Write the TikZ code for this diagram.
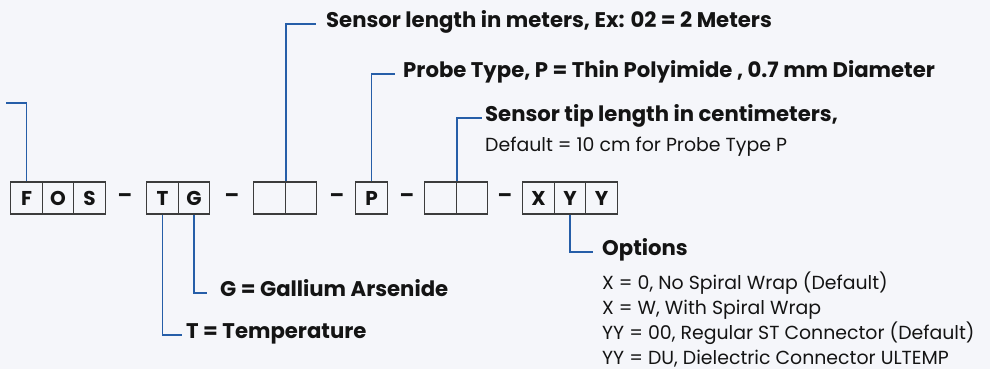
\documentclass[tikz,border=0pt]{standalone}
\usepackage{fontspec}
\setmainfont{Poppins}
\usepackage{xcolor}
\usepackage{tikz}
\usetikzlibrary{positioning}

\definecolor{leadblue}{RGB}{38,94,168}
\definecolor{cellgray}{RGB}{60,60,60}
\definecolor{inkblack}{RGB}{20,20,20}
\definecolor{paper}{RGB}{245,246,250}

\begin{document}
\begin{tikzpicture}[
    x=1pt, y=-1pt,
    node distance=31.5pt,
    cell/.style={draw=cellgray, line width=1.2pt, minimum width=31.5pt, minimum height=32pt, inner sep=0pt, text=inkblack, font=\fontsize{20}{20}\selectfont\bfseries},
    sep/.style={text=inkblack, font=\fontsize{21}{21}\selectfont\bfseries},
    lead/.style={draw=leadblue, line width=1.4pt},
    head/.style={anchor=west, inner sep=0pt, text=inkblack, text height=.7em, text depth=0pt, font=\fontsize{21.2}{24}\selectfont\bfseries},
    note/.style={anchor=base west, inner sep=0pt, text=inkblack, font=\fontsize{18.9}{25}\selectfont}
]
    \fill[paper] (0,0) rectangle (990,369);
    \useasboundingbox (0,0) rectangle (990,369);

    % part number cells
    \node [cell] (f) at (26.5,198) {F};
    \node [cell, right of=f] (o) {O};
    \node [cell, right of=o] (s) {S};
    \node [sep] (d1) at (125,198) {--};
    \node [cell] (t) at (162.5,198) {T};
    \node [cell, right of=t] (g) {G};
    \node [sep] (d2) at (232,198) {--};
    \node [cell] (la) at (269.5,198) {};
    \node [cell, right of=la] (lb) {};
    \node [sep] (d3) at (337,198) {--};
    \node [cell] (p) at (371.5,198) {P};
    \node [sep] (d4) at (407,198) {--};
    \node [cell] (ta) at (440.5,198) {};
    \node [cell, right of=ta] (tb) {};
    \node [sep] (d5) at (505,198) {--};
    \node [cell] (xo) at (538.5,198) {X};
    \node [cell, right of=xo] (ya) {Y};
    \node [cell, right of=ya] (yb) {Y};

    % labels above
    \coordinate (fosend) at (6,103);
    \node [head] (len) at (326,24) {Sensor length in meters, Ex: 02 = 2 Meters};
    \node [head] (probe) at (403,74) {Probe Type, P = Thin Polyimide , 0.7 mm Diameter};
    \node [head] (tip) at (485,118) {Sensor tip length in centimeters,};
    \node [note] (tipnote) at (485,151) {Default = 10 cm for Probe Type P};

    % labels below
    \node [head] (opts) at (602,252) {Options};
    \node [note] (opta) at (602,289.5) {X = 0, No Spiral Wrap (Default)};
    \node [note] (optb) at (602,314.5) {X = W, With Spiral Wrap};
    \node [note] (optc) at (602,339.5) {YY = 00, Regular ST Connector (Default)};
    \node [note] (optd) at (602,364) {YY = DU, Dielectric Connector ULTEMP};
    \node [head] (gal) at (220,293) {G = Gallium Arsenide};
    \node [head] (temp) at (186,335) {T = Temperature};

    \draw [lead] (f.north) |- (fosend);
    \draw [lead] (la.north east) |- ([xshift=-10pt]len.west);
    \draw [lead] (p.north) |- ([xshift=-8pt]probe.west);
    \draw [lead] (ta.north east) |- ([xshift=-3pt]tip.west);
    \draw [lead] (ya.south) |- ([xshift=-9pt]opts.west);
    \draw [lead] (g.south) |- ([xshift=-13pt]gal.west);
    \draw [lead] (t.south) |- ([xshift=-4pt]temp.west);
\end{tikzpicture}
\end{document}
